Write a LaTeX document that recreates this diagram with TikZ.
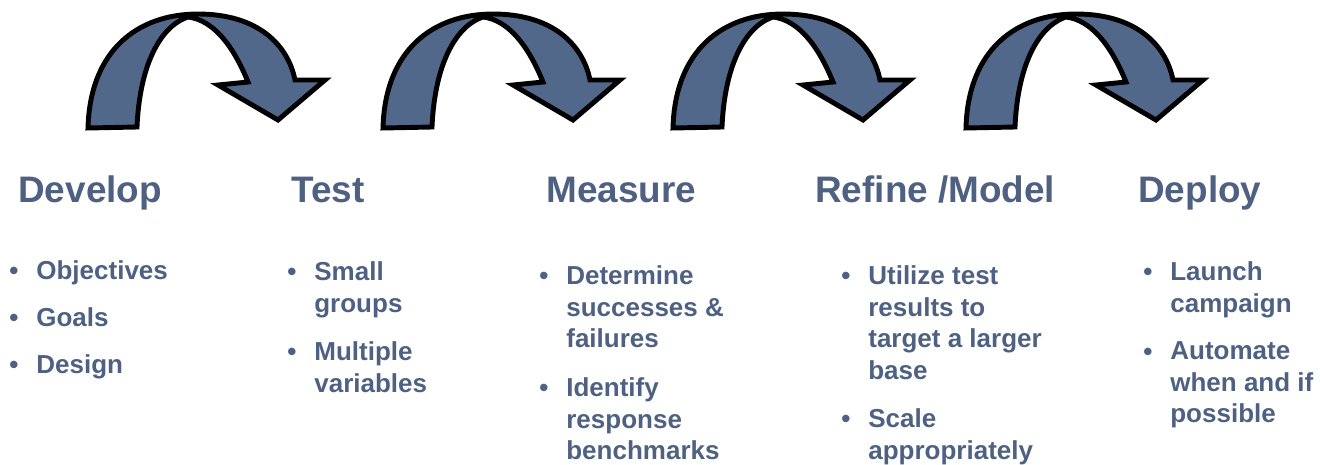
\documentclass[tikz,border=0pt]{standalone}
\usepackage{fontspec}
\setmainfont{Liberation Sans}
\usepackage{tikz}
\definecolor{slate}{RGB}{82,104,138}
\definecolor{txt}{RGB}{79,97,130}
\newcommand{\headfont}{\fontsize{21}{25}\bfseries\selectfont}
\newcommand{\itemfont}{\fontsize{14.8}{18.1}\bfseries\selectfont}
\tikzset{
	head/.style={anchor=base west,inner sep=0pt,text=txt,font=\headfont},
	itm/.style={anchor=north west,inner sep=0pt,text=txt,font=\itemfont,align=left},
	bul/.style={anchor=base,inner sep=0pt,text=txt,font=\itemfont},
	curl/.pic={
		\draw[line width=2.8pt,line join=miter,fill=slate]
			(0,128) .. controls (2,50) and (50,14) .. (110,14)
			.. controls (170,14) and (200,45) .. (207,80)
			-- (237,80) -- (190,120) -- (130,85) -- (160,82)
			.. controls (145,45) and (125,20) .. (100,17)
			.. controls (75,25) and (52,60) .. (49,127) -- cycle;
	}
}

\begin{document}
\begin{tikzpicture}[x=0.02cm,y=-0.02cm]
\useasboundingbox (0,0) rectangle (1320,464);
% the four curved arrows
\pic at (88,0) {curl};
\pic at (383,0) {curl};
\pic at (673,0) {curl};
\pic at (966,0) {curl};
% headings
\node[head] (dev) at (18,202) {Develop};
\node[head] (tst) at (291,202) {Test};
\node[head] (mea) at (546,202) {Measure};
\node[head] (ref) at (815,202) {Refine /Model};
\node[head] (dep) at (1138,202) {Deploy};
% develop (item tops sit 19 above the first baseline)
\node[bul] (dev1b) at (14,279) {\textbullet};
\node[itm] (dev1) at (36,260) {Objectives};
\node[bul] (dev2b) at (14,326) {\textbullet};
\node[itm] (dev2) at (36,307) {Goals};
\node[bul] (dev3b) at (14,373) {\textbullet};
\node[itm] (dev3) at (36,354) {Design};
% test
\node[bul] (tst1b) at (292,280) {\textbullet};
\node[itm] (tst1) at (314,261) {Small\\groups};
\node[bul] (tst2b) at (292,360) {\textbullet};
\node[itm] (tst2) at (314,341) {Multiple\\variables};
% measure
\node[bul] (mea1b) at (544,284) {\textbullet};
\node[itm] (mea1) at (566,265) {Determine\\successes \&\\failures};
\node[bul] (mea2b) at (544,396) {\textbullet};
\node[itm] (mea2) at (566,377) {Identify\\response\\benchmarks};
% refine
\node[bul] (ref1b) at (846,284) {\textbullet};
\node[itm] (ref1) at (868,265) {Utilize test\\results to\\target a larger\\base};
\node[bul] (ref2b) at (846,427) {\textbullet};
\node[itm] (ref2) at (868,408) {Scale\\appropriately};
% deploy
\node[bul] (dep1b) at (1148,280) {\textbullet};
\node[itm] (dep1) at (1170,261) {Launch\\campaign};
\node[bul] (dep2b) at (1148,360) {\textbullet};
\node[itm] (dep2) at (1170,341) {Automate\\when and if\\possible};
\end{tikzpicture}
\end{document}
